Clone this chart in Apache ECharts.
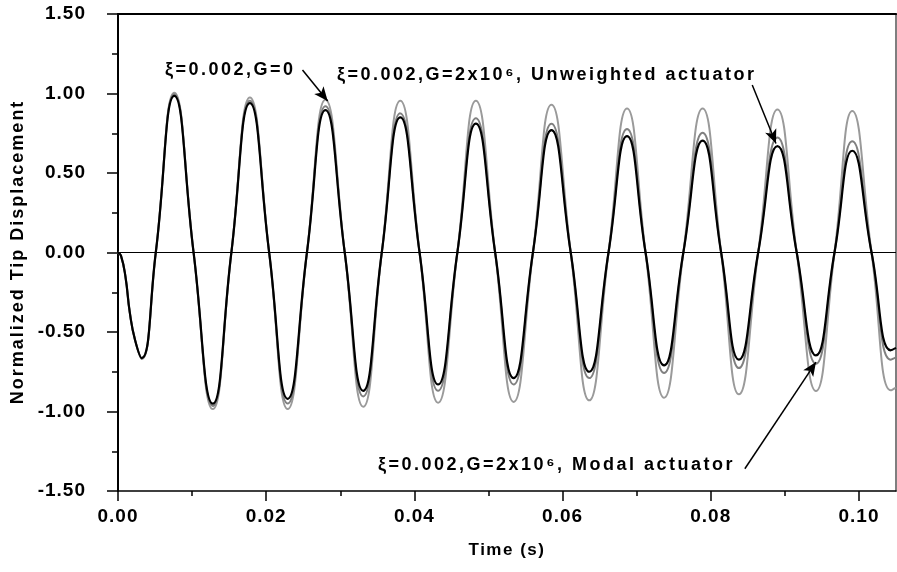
<!DOCTYPE html>
<html>
<head>
<meta charset="utf-8">
<script src="https://cdn.jsdelivr.net/npm/echarts@6/dist/echarts.min.js"></script>
<style>
    html, body { margin: 0; padding: 0; background: #fff; }
    #chart { width: 897px; height: 572px; }
</style>
</head>
<body>
<div id="chart"></div>
<script>
    // time instants (start, extrema and zero crossings)
    const times = [0, 0.0004, 0.0010, 0.0016, 0.0023, 0.0032, 0.0051, 0.0076, 0.0102, 0.0128,
        0.0153, 0.0178, 0.0204, 0.0229, 0.0255, 0.0280, 0.0306, 0.0331, 0.0356, 0.0381,
        0.0407, 0.0432, 0.0458, 0.0483, 0.0509, 0.0534, 0.0560, 0.0585, 0.0611, 0.0636,
        0.0662, 0.0687, 0.0712, 0.0737, 0.0763, 0.0789, 0.0814, 0.0838, 0.0864, 0.0890,
        0.0916, 0.0942, 0.0967, 0.0991, 0.1017, 0.1043, 0.1050];

    // xi=0.002, G=0 (light grey)
    const noControl = [0, -0.02, -0.15, -0.38, -0.55, -0.67, 0, 1.005, 0, -0.985,
        0, 0.975, 0, -0.985, 0, 0.96, 0, -0.97, 0, 0.955,
        0, -0.945, 0, 0.955, 0, -0.94, 0, 0.93, 0, -0.93,
        0, 0.905, 0, -0.913, 0, 0.905, 0, -0.892, 0, 0.90,
        0, -0.871, 0, 0.89, 0, -0.867, -0.85];

    // xi=0.002, G=2x10^6, unweighted actuator (mid grey)
    const unweighted = [0, -0.02, -0.15, -0.38, -0.55, -0.665, 0, 0.995, 0, -0.965,
        0, 0.955, 0, -0.95, 0, 0.92, 0, -0.905, 0, 0.875,
        0, -0.87, 0, 0.845, 0, -0.83, 0, 0.81, 0, -0.79,
        0, 0.776, 0, -0.758, 0, 0.753, 0, -0.727, 0, 0.724,
        0, -0.699, 0, 0.699, 0, -0.674, -0.66];

    // xi=0.002, G=2x10^6, modal actuator (black)
    const modal = [0, -0.02, -0.15, -0.38, -0.55, -0.664, 0, 0.985, 0, -0.951,
        0, 0.94, 0, -0.92, 0, 0.895, 0, -0.87, 0, 0.85,
        0, -0.83, 0, 0.81, 0, -0.79, 0, 0.77, 0, -0.75,
        0, 0.732, 0, -0.71, 0, 0.703, 0, -0.674, 0, 0.669,
        0, -0.647, 0, 0.64, 0, -0.615, -0.60];

    const xMajor = [0, 0.02, 0.04, 0.06, 0.08, 0.10];
    const xMinor = [0.01, 0.03, 0.05, 0.07, 0.09];

    // annotation arrows [from, to] in data coordinates
    const arrows = [
        [[0.0249, 1.148], [0.0283, 0.953]],
        [[0.0856, 1.054], [0.0888, 0.686]],
        [[0.0846, -1.360], [0.0942, -0.689]]
    ];

    function pairs(arr) {
        return times.map((t, i) => [t, arr[i]]);
    }

    // the original plot has slightly letter-spaced text; canvas can do that natively
    function spacingFor(text) {
        if (text.indexOf('ξ') >= 0) return '2.5px';
        if (text === 'Normalized Tip Displacement') return '2px';
        if (text === 'Time (s)') return '1.5px';
        return '1px';
    }
    const origFillText = CanvasRenderingContext2D.prototype.fillText;
    CanvasRenderingContext2D.prototype.fillText = function (text, x, y, maxWidth) {
        const old = this.letterSpacing;
        this.letterSpacing = spacingFor(String(text));
        if (maxWidth === undefined) {
            origFillText.call(this, text, x, y);
        } else {
            origFillText.call(this, text, x, y, maxWidth);
        }
        this.letterSpacing = old;
    };

    const tickFont = {
        fontFamily: 'Liberation Sans',
        fontWeight: 'bold',
        fontSize: 19,
        color: '#000'
    };
    const noteFont = 'bold 18px "Liberation Sans"';

    let myChart = echarts.init(document.getElementById('chart'));

    let option = {
        animation: false,
        backgroundColor: '#fff',
        grid: {
            left: 118,
            top: 14,
            right: 1,
            bottom: 81,
            outerBoundsMode: 'none'
        },
        xAxis: [
            {
                type: 'value',
                min: 0,
                max: 0.105,
                position: 'bottom',
                name: 'Time (s)',
                nameLocation: 'middle',
                nameGap: 51,
                nameTextStyle: {
                    fontFamily: 'Liberation Sans',
                    fontWeight: 'bold',
                    fontSize: 17,
                    color: '#000'
                },
                axisLine: { onZero: false, lineStyle: { color: '#000', width: 1.5 } },
                axisTick: { customValues: xMajor, length: 10, lineStyle: { color: '#000', width: 1.5 } },
                axisLabel: Object.assign({
                    customValues: xMajor,
                    margin: 16,
                    formatter: (v) => v.toFixed(2)
                }, tickFont),
                splitLine: { show: false }
            },
            {
                // minor ticks of the time axis
                type: 'value',
                min: 0,
                max: 0.105,
                position: 'bottom',
                axisLine: { show: false, onZero: false },
                axisTick: { customValues: xMinor, length: 5, lineStyle: { color: '#000', width: 1.5 } },
                axisLabel: { show: false },
                splitLine: { show: false }
            },
            {
                // top frame line
                type: 'value',
                min: 0,
                max: 0.105,
                position: 'top',
                axisLine: { onZero: false, lineStyle: { color: '#000', width: 2.2 } },
                axisTick: { show: false },
                axisLabel: { show: false },
                splitLine: { show: false }
            }
        ],
        yAxis: [
            {
                type: 'value',
                min: -1.5,
                max: 1.5,
                interval: 0.5,
                position: 'left',
                axisLine: { onZero: false, lineStyle: { color: '#000', width: 2 } },
                axisTick: { length: 11, lineStyle: { color: '#000', width: 1.5 } },
                minorTick: { show: true, splitNumber: 2, length: 6, lineStyle: { color: '#000', width: 1.5 } },
                axisLabel: Object.assign({
                    margin: 32,
                    formatter: (v) => v.toFixed(2)
                }, tickFont),
                splitLine: { show: false }
            },
            {
                // right frame line
                type: 'value',
                min: -1.5,
                max: 1.5,
                position: 'right',
                axisLine: { onZero: false, lineStyle: { color: '#555', width: 1.5 } },
                axisTick: { show: false },
                axisLabel: { show: false },
                splitLine: { show: false }
            }
        ],
        series: [
            {
                name: 'ξ=0.002,G=0',
                type: 'line',
                data: pairs(noControl),
                smooth: true,
                showSymbol: false,
                z: 2,
                lineStyle: { color: '#9a9a9a', width: 2 },
                markLine: {
                    silent: true,
                    symbol: 'none',
                    label: { show: false },
                    lineStyle: { color: '#000', width: 1.2, type: 'solid' },
                    data: [{ yAxis: 0 }]
                }
            },
            {
                name: 'ξ=0.002,G=2x10⁶, Unweighted actuator',
                type: 'line',
                data: pairs(unweighted),
                smooth: true,
                showSymbol: false,
                z: 3,
                lineStyle: { color: '#808080', width: 2 }
            },
            {
                name: 'ξ=0.002,G=2x10⁶, Modal actuator',
                type: 'line',
                data: pairs(modal),
                smooth: true,
                showSymbol: false,
                z: 4,
                lineStyle: { color: '#000', width: 2.2 },
                markLine: {
                    silent: true,
                    symbol: ['none', 'arrow'],
                    symbolSize: [9, 14],
                    label: { show: false },
                    lineStyle: { color: '#000', width: 1.5, type: 'solid' },
                    data: arrows.map((a) => [{ coord: a[0] }, { coord: a[1] }])
                }
            }
        ],
        graphic: [
            {
                type: 'text',
                x: 18,
                y: 252,
                rotation: Math.PI / 2,
                style: {
                    text: 'Normalized Tip Displacement',
                    font: 'bold 18px "Liberation Sans"',
                    fill: '#000',
                    align: 'center',
                    verticalAlign: 'middle'
                }
            },
            {
                type: 'text',
                x: 165,
                y: 70,
                style: {
                    text: 'ξ=0.002,G=0',
                    font: noteFont,
                    fill: '#000',
                    verticalAlign: 'middle'
                }
            },
            {
                type: 'text',
                x: 337,
                y: 75,
                style: {
                    text: 'ξ=0.002,G=2x10⁶, Unweighted actuator',
                    font: noteFont,
                    fill: '#000',
                    verticalAlign: 'middle'
                }
            },
            {
                type: 'text',
                x: 378,
                y: 465,
                style: {
                    text: 'ξ=0.002,G=2x10⁶, Modal actuator',
                    font: noteFont,
                    fill: '#000',
                    verticalAlign: 'middle'
                }
            }
        ]
    };
    myChart.setOption(option);
</script>
</body>
</html>
